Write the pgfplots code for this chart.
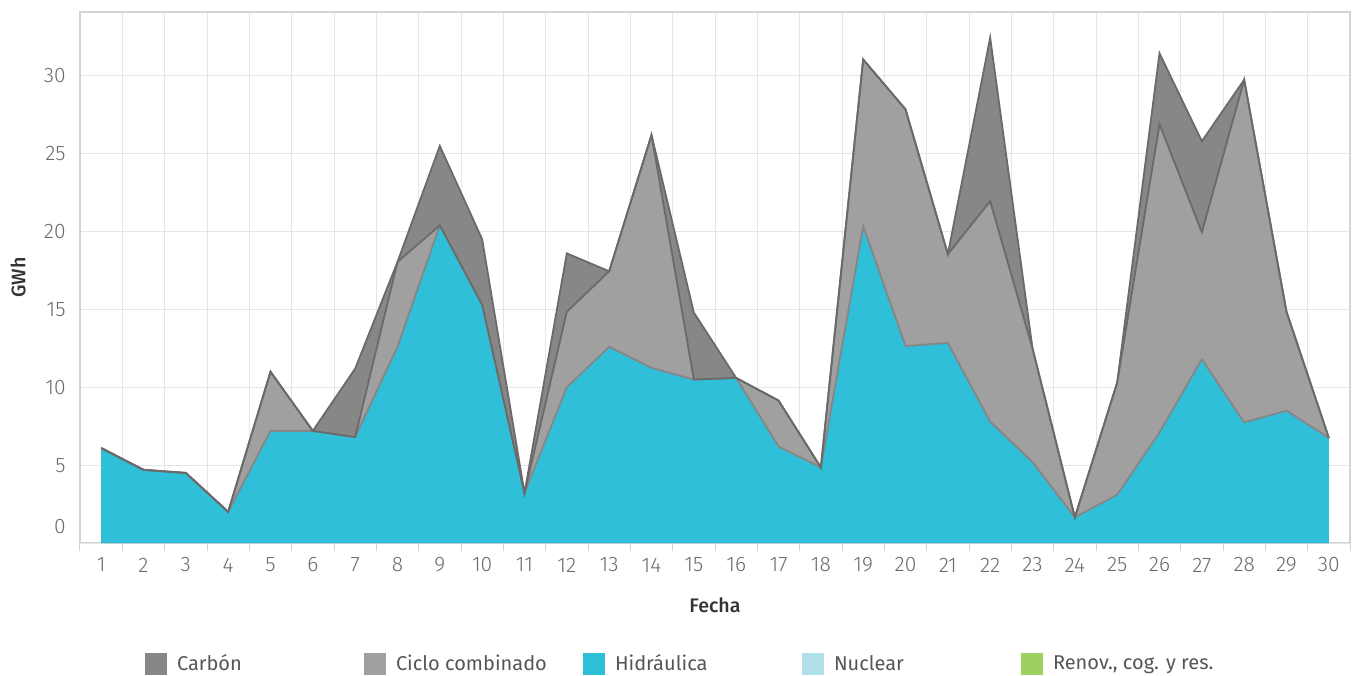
\documentclass[border=0pt]{standalone}
\usepackage{pgfplots}
\pgfplotsset{compat=1.18}
\usepackage{pgfplotstable}
\usepackage{fontspec}
\setmainfont{Fira Sans}
\IfFontExistsTF{Fira Sans Light}{\newfontfamily\lightfont{Fira Sans Light}}{\newcommand\lightfont{\relax}}
\IfFontExistsTF{Fira Sans Medium}{\newfontfamily\medfont{Fira Sans Medium}}{\newcommand\medfont{\bfseries}}

\definecolor{carbon}{HTML}{878787}
\definecolor{ciclo}{HTML}{A0A0A0}
\definecolor{hidro}{HTML}{2FBFD8}
\definecolor{nuclear}{HTML}{B1DFEA}
\definecolor{renov}{HTML}{9FCF5F}
\definecolor{edge}{HTML}{6A6A6A}
\definecolor{hedge}{HTML}{868686}
\definecolor{gridc}{HTML}{E6E6E6}
\definecolor{axc}{HTML}{D3D3D3}
\definecolor{tickc}{HTML}{6A6A6A}
\definecolor{labc}{HTML}{333333}
\definecolor{legc}{HTML}{555555}

% d = dia, h = Hidraulica, cc = Ciclo combinado, c = Carbon (GWh)
\pgfplotstableread{
d  h     cc    c
1  6.1   0     0
2  4.7   0     0
3  4.5   0     0
4  2.0   0     0
5  7.2   3.8   0
6  7.2   0     0
7  6.8   0     4.4
8  12.6  5.45  0
9  20.4  0     5.1
10 15.3  0     4.2
11 3.2   0     0
12 10.0  4.85  3.75
13 12.6  4.85  0
14 11.25 14.95 0
15 10.5  0     4.3
16 10.6  0     0
17 6.2   2.95  0
18 4.85  0     0
19 20.35 10.7  0
20 12.65 15.2  0
21 12.85 5.7   0
22 7.8   14.15 10.5
23 5.2   7.3   0
24 1.65  0     0
25 3.1   7.2   0
26 7.1   19.8  4.55
27 11.8  8.15  5.85
28 7.75  22.0  0
29 8.5   6.35  0
30 6.75  0     0
}\datos

\begin{document}
\begin{tikzpicture}
\path[use as bounding box] (-40pt,-66pt) rectangle (639pt,271.5pt);
\begin{axis}[
  width=635pt, height=265.5pt, scale only axis,
  xmin=0.5, xmax=30.5, ymin=0, ymax=34.1,
  xtick={1,...,30}, minor xtick={0.5,1.5,...,30.5},
  ytick={5,10,...,30},
  extra y ticks={0},
  extra y tick style={yticklabel style={yshift=8pt}},
  ymajorgrids=true, xminorgrids=true, xmajorgrids=false,
  major grid style={gridc, line width=0.5pt},
  minor grid style={gridc, line width=0.5pt},
  axis line style={axc, line width=0.6pt},
  major tick length=0pt, minor tick length=4pt, tick align=outside,
  tick style={axc, line width=0.5pt},
  xtick pos=bottom, ytick pos=left,
  /pgf/number format/assume math mode=true,
  ticklabel style={font=\lightfont\fontsize{10.5}{12}\selectfont, text=tickc},
  xticklabel style={anchor=center, yshift=-11pt},
  yticklabel style={anchor=east, inner sep=0pt, xshift=-7pt},
  xlabel={Fecha}, ylabel={GWh},
  xlabel style={at={(axis description cs:0.5,-0.1168)}, anchor=center, font=\medfont\fontsize{9.8}{11}\selectfont, text=labc},
  ylabel style={at={(axis description cs:-0.0488,0.5)}, anchor=center, font=\medfont\fontsize{9.8}{11}\selectfont, text=labc},
  legend columns=5,
  legend cell align=left,
  legend style={at={(axis description cs:0.0512,-0.228)}, anchor=west, draw=none, fill=none,
     inner sep=0pt, outer sep=0pt, font=\fontsize{10}{12}\selectfont, text=legc,
     nodes={inner sep=0pt},
     /tikz/every odd column/.append style={column sep=5pt}},
  legend image code/.code={\fill[#1,draw=none] (0pt,-5.5pt) rectangle (11pt,5.5pt);},
]
\addplot[fill=carbon, draw=none] table[x=d, y expr=\thisrow{h}+\thisrow{cc}+\thisrow{c}] {\datos} \closedcycle;
\addlegendentry{\makebox[93.5pt][l]{Carbón}}
\addplot[fill=ciclo, draw=none] table[x=d, y expr=\thisrow{h}+\thisrow{cc}] {\datos} \closedcycle;
\addlegendentry{\makebox[93.5pt][l]{Ciclo combinado}}
\addplot[fill=hidro, draw=none] table[x=d, y=h] {\datos} \closedcycle;
\addlegendentry{\makebox[93.5pt][l]{Hidráulica}}
\addlegendimage{fill=nuclear, draw=none}
\addlegendentry{\makebox[93.5pt][l]{Nuclear}}
\addlegendimage{fill=renov, draw=none}
\addlegendentry{\makebox[93.5pt][l]{Renov., cog. y res.}}

\addplot[hedge, line width=0.9pt, forget plot] table[x=d, y=h] {\datos};
\addplot[edge, line width=0.9pt, forget plot] table[x=d, y expr=\thisrow{h}+\thisrow{cc}] {\datos};
\addplot[edge, line width=0.9pt, forget plot] table[x=d, y expr=\thisrow{h}+\thisrow{cc}+\thisrow{c}] {\datos};
\end{axis}
\end{tikzpicture}
\end{document}
